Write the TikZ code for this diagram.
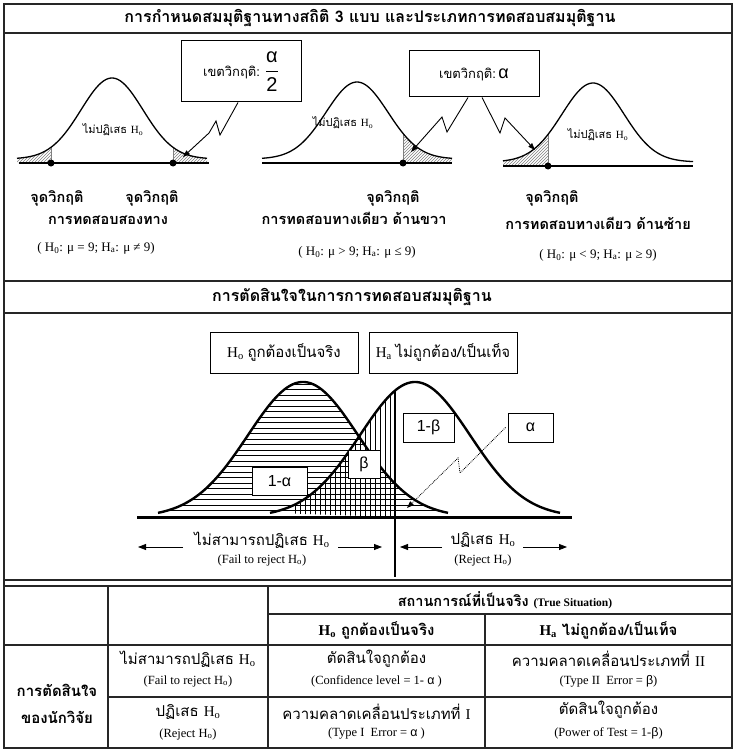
\documentclass[tikz,border=0pt]{standalone}
\usepackage{fontspec}
\setmainfont{Liberation Serif}
\newfontfamily\thaifont[Script=Thai]{Loma}
\newfontfamily\grk{Liberation Sans}
\usepackage{tikz}
\usetikzlibrary{arrows.meta,calc,patterns,positioning}

\newcommand{\Hs}[1]{{\rmfamily H\textsubscript{#1}}}

\begin{document}
\begin{tikzpicture}[
    x=1pt,y=-1pt,
    declare function={gs(\t,\m,\s)=exp(-0.5*((\t-\m)/\s)^2);},
    gridline/.style={line width=1.4pt,black!85},
    bell/.style={line width=1.3pt},
    bigbell/.style={line width=2.4pt},
    xline/.style={line width=2.2pt},
    tailfill/.style={pattern=north east lines,pattern color=black!50},
    critline/.style={black!50,line width=0.8pt},
    dot/.style={circle,fill=black,minimum size=7pt,inner sep=0pt},
    cbox/.style={draw,line width=1pt,fill=white,inner sep=0pt},
    pointer/.style={line width=0.9pt,-{Triangle[length=7pt,width=5pt]}},
    head/.style={font=\thaifont\bfseries\fontsize{16}{18}\selectfont,inner sep=0pt},
    thb/.style={font=\thaifont\bfseries\fontsize{14.5}{16}\selectfont,inner sep=0pt},
    thn/.style={font=\thaifont\fontsize{15}{17}\selectfont,inner sep=0pt},
    ths/.style={font=\thaifont\fontsize{11}{13}\selectfont,inner sep=0pt},
    eng/.style={font=\rmfamily\fontsize{12.5}{14}\selectfont,inner sep=0pt},
    hyp/.style={font=\rmfamily\fontsize{13}{15}\selectfont,inner sep=0pt},
    valbox/.style={draw,line width=1pt,fill=white,inner sep=0pt,font=\grk\fontsize{16}{18}\selectfont},
    hatchline/.style={line width=0.7pt},
    side/.style={line width=0.8pt,-{Triangle[length=8pt,width=6pt]}}
]
\useasboundingbox (0,0) rectangle (735,749);

% outer frame and section rules
\draw[gridline] (4,4) rectangle (732,748);
\draw[gridline] (4,33) -- (732,33);
\draw[gridline] (4,281) -- (732,281);
\draw[gridline] (4,313) -- (732,313);
\draw[gridline] (4,580) -- (732,580);

\node[head] (title1) at (370,18) {การกำหนดสมมุติฐานทางสถิติ 3 แบบ และประเภทการทดสอบสมมุติฐาน};
\node[head] (title2) at (352,297) {การตัดสินใจในการการทดสอบสมมุติฐาน};

% --- two-tailed
\path[tailfill] plot[domain=17:51,samples=20] (\x,{159-81*gs(\x,112,31)}) -- (51,163) -- (17,163) -- cycle;
\path[tailfill] plot[domain=173:207,samples=20] (\x,{159-81*gs(\x,112,31)}) -- (207,163) -- (173,163) -- cycle;
\draw[critline] (51,163) -- (51,{159-81*gs(51,112,31)});
\draw[critline] (173,163) -- (173,{159-81*gs(173,112,31)});
\draw[bell] plot[domain=17:207,samples=80] (\x,{159-81*gs(\x,112,31)});
\draw[xline] (19,163) -- (209,163);
\node[dot] (k1) at (51,163) {};
\node[dot] (k2) at (173,163) {};
\node[ths] (acc1) at (113,130) {ไม่ปฏิเสธ \Hs{o}};
\node[thb] (cp1) at (57,198) {จุดวิกฤติ};
\node[thb] (cp2) at (152,198) {จุดวิกฤติ};
\node[thb] (tt1) at (108,220) {การทดสอบสองทาง};
\node[hyp] (hy1) at (96,248) {( \Hs{0}: μ = 9; \Hs{a}: μ ≠ 9)};

% --- right-tailed
\path[tailfill] plot[domain=403:452,samples=20] (\x,{159-77*gs(\x,357,31)}) -- (452,163) -- (403,163) -- cycle;
\draw[critline] (403,163) -- (403,{159-77*gs(403,357,31)});
\draw[bell] plot[domain=262:452,samples=80] (\x,{159-77*gs(\x,357,31)});
\draw[xline] (262,163) -- (452,163);
\node[dot] (k3) at (403,163) {};
\node[ths] (acc2) at (343,123) {ไม่ปฏิเสธ \Hs{o}};
\node[thb] (cp3) at (393,198) {จุดวิกฤติ};
\node[thb] (tt2) at (354,218) {การทดสอบทางเดียว ด้านขวา};
\node[hyp] (hy2) at (357,252) {( \Hs{0}: μ > 9; \Hs{a}: μ ≤ 9)};

% --- left-tailed
\path[tailfill] plot[domain=503:548,samples=20] (\x,{162-79*gs(\x,593,31)}) -- (548,166) -- (503,166) -- cycle;
\draw[critline] (548,166) -- (548,{162-79*gs(548,593,31)});
\draw[bell] plot[domain=503:693,samples=80] (\x,{162-79*gs(\x,593,31)});
\draw[xline] (503,166) -- (693,166);
\node[dot] (k4) at (548,166) {};
\node[ths] (acc3) at (598,135) {ไม่ปฏิเสธ \Hs{o}};
\node[thb] (cp4) at (552,198) {จุดวิกฤติ};
\node[thb] (tt3) at (598,223) {การทดสอบทางเดียว ด้านซ้าย};
\node[hyp] (hy3) at (598,255) {( \Hs{0}: μ < 9; \Hs{a}: μ ≥ 9)};

% callouts
\node[cbox,minimum width=120pt,minimum height=61pt] (cb1) at (241,71.5)
  {{\thaifont\fontsize{13}{15}\selectfont เขตวิกฤติ:}\ \ {\grk\fontsize{20}{22}\selectfont$\displaystyle\frac{\mbox{α}}{\mbox{2}}$}};
\node[cbox,minimum width=130pt,minimum height=46pt] (cb2) at (474,74)
  {{\thaifont\fontsize{13}{15}\selectfont เขตวิกฤติ:}\ {\grk\fontsize{18}{20}\selectfont α}};
\coordinate (p1) at (183,157);
\coordinate (p2) at (411,152);
\coordinate (p3) at (535,150);
\draw[pointer] ([xshift=-3pt]cb1.south) -- (220,135) -- (216,121) -- (209,133) -- (p1);
\draw[pointer] ([xshift=-6pt]cb2.south) -- (447,132) -- (442,117) -- (p2);
\draw[pointer] ([xshift=8pt]cb2.south) -- (500,133) -- (505,118) -- (p3);

% --- decision picture
\begin{scope}
  \clip plot[domain=158:448,samples=80] (\x,{517-135*gs(\x,303,55)}) -- cycle;
  \foreach \yy in {384,389.5,...,516} \draw[hatchline] (150,\yy) -- (460,\yy);
\end{scope}
\begin{scope}
  \clip plot[domain=270:395,samples=60] (\x,{517-135*gs(\x,415,55)}) -- (395,517) -- cycle;
  \foreach \xx in {295,300,...,393} \draw[hatchline] (\xx,380) -- (\xx,517);
\end{scope}
\draw[bigbell] plot[domain=158:448,samples=100] (\x,{517-135*gs(\x,303,55)});
\draw[bigbell] plot[domain=270:560,samples=100] (\x,{517-135*gs(\x,415,55)});
\draw[line width=3pt] (137,517) -- (572,517);
\coordinate (ctop) at (395,{517-135*gs(395,415,55)});
\coordinate (cbot) at (395,577);
\draw[line width=1.8pt] (ctop) -- (cbot);

\node[cbox,minimum width=148pt,minimum height=41pt,font=\fontsize{15}{17}\selectfont] (h0box) at (284,352.5)
  {\Hs{o} {\thaifont ถูกต้องเป็นจริง}};
\node[cbox,minimum width=148pt,minimum height=41pt,font=\fontsize{15}{17}\selectfont] (habox) at (443,352.5)
  {\Hs{a} {\thaifont ไม่ถูกต้อง/เป็นเท็จ}};

\node[valbox,minimum width=55pt,minimum height=28pt] (v1a) at (279.5,481) {1-α};
\node[valbox,minimum width=32pt,minimum height=28pt] (vb) at (364,464) {β};
\node[valbox,minimum width=51pt,minimum height=29pt] (v1b) at (428.5,427.5) {1-β};
\node[valbox,minimum width=45pt,minimum height=29pt] (va) at (530.5,427.5) {α};
\coordinate (pa) at (407,508);
\draw[line width=0.8pt,densely dotted,-{Triangle[length=7pt,width=5pt]}]
  ([xshift=-2pt]va.west) -- (460,473) -- (458,458) -- (pa);

\node[thn] (fr) at (262,540) {ไม่สามารถปฏิเสธ \Hs{o}};
\node[eng] (fre) at (262,560) {(Fail to reject \Hs{o})};
\node[thn] (rj) at (483,540) {ปฏิเสธ \Hs{o}};
\node[eng] (rje) at (483,560) {(Reject \Hs{o})};
\coordinate (a1) at (183,547); \coordinate (a2) at (138,547);
\coordinate (a3) at (338,547); \coordinate (a4) at (382,547);
\coordinate (a5) at (442,547); \coordinate (a6) at (400,547);
\coordinate (a7) at (523,547); \coordinate (a8) at (567,547);
\draw[side] (a1) -- (a2);
\draw[side] (a3) -- (a4);
\draw[side] (a5) -- (a6);
\draw[side] (a7) -- (a8);

% --- table
\draw[gridline] (4,586) -- (732,586);
\draw[gridline] (268,614) -- (732,614);
\draw[gridline] (4,645) -- (732,645);
\draw[gridline] (108,697) -- (732,697);
\draw[gridline] (108,586) -- (108,748);
\draw[gridline] (268,586) -- (268,748);
\draw[gridline] (485,614) -- (485,748);

\node[thb] (ts) at (505,600) {สถานการณ์ที่เป็นจริง {\rmfamily\bfseries\fontsize{11.5}{13}\selectfont (True Situation)}};
\node[thb,font=\thaifont\bfseries\fontsize{15}{17}\selectfont] (sh0) at (376.5,630) {\Hs{o} ถูกต้องเป็นจริง};
\node[thb,font=\thaifont\bfseries\fontsize{15}{17}\selectfont] (sha) at (608.5,630) {\Hs{a} ไม่ถูกต้อง/เป็นเท็จ};

\node[thb,font=\thaifont\bfseries\fontsize{15}{17}\selectfont] (dm1) at (57,690) {การตัดสินใจ};
\node[thb,font=\thaifont\bfseries\fontsize{15}{17}\selectfont] (dm2) at (57,717) {ของนักวิจัย};

\node[thn] (r1c2) at (188,659) {ไม่สามารถปฏิเสธ \Hs{o}};
\node[eng] (r1c2e) at (188,681) {(Fail to reject \Hs{o})};
\node[thn] (r1c3) at (376.5,659) {ตัดสินใจถูกต้อง};
\node[eng] (r1c3e) at (376.5,681) {(Confidence level = 1- {\grk α} )};
\node[thn] (r1c4) at (608.5,659) {ความคลาดเคลื่อนประเภทที่ {\rmfamily II}};
\node[eng] (r1c4e) at (608.5,681) {(Type II\ \ Error = {\grk β})};

\node[thn] (r2c2) at (188,712) {ปฏิเสธ \Hs{o}};
\node[eng] (r2c2e) at (188,734) {(Reject \Hs{o})};
\node[thn] (r2c3) at (376.5,712) {ความคลาดเคลื่อนประเภทที่ {\rmfamily I}};
\node[eng] (r2c3e) at (376.5,734) {(Type I\ \ Error = {\grk α} )};
\node[thn] (r2c4) at (608.5,710) {ตัดสินใจถูกต้อง};
\node[eng] (r2c4e) at (608.5,733) {(Power of Test = 1-{\grk β})};
\end{tikzpicture}
\end{document}
